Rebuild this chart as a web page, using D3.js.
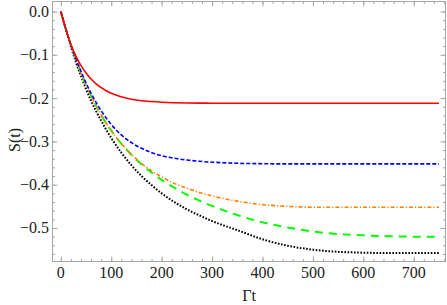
<!DOCTYPE html>
<html><head><meta charset="utf-8">
<script src="https://cdn.jsdelivr.net/npm/d3@7"></script>
<style>body{margin:0;background:#fff}svg{display:block}</style>
</head><body>
<svg id="c" width="447" height="305"></svg>
<script>
const tVals = [0,10,20,30,40,50,60,70,80,90,100,120,140,160,180,200,225,250,275,300,350,400,450,500,550,600,650,700,750];
const redS   = [0,-0.040,-0.076,-0.103,-0.125,-0.142,-0.156,-0.167,-0.176,-0.183,-0.189,-0.197,-0.2025,-0.206,-0.208,-0.2095,-0.2106,-0.2112,-0.2116,-0.2118,-0.212,-0.212,-0.212,-0.212,-0.212,-0.212,-0.212,-0.212,-0.212];
const blueS  = [0,-0.041,-0.077,-0.109,-0.138,-0.165,-0.189,-0.210,-0.229,-0.246,-0.261,-0.285,-0.303,-0.316,-0.326,-0.333,-0.339,-0.343,-0.346,-0.348,-0.3505,-0.3515,-0.352,-0.352,-0.352,-0.352,-0.352,-0.352,-0.352];
const orangeS= [0,-0.041,-0.078,-0.111,-0.142,-0.170,-0.195,-0.218,-0.239,-0.258,-0.275,-0.305,-0.330,-0.351,-0.368,-0.382,-0.397,-0.408,-0.418,-0.426,-0.438,-0.446,-0.450,-0.452,-0.452,-0.452,-0.452,-0.452,-0.452];
const greenS = [0,-0.041,-0.078,-0.111,-0.142,-0.170,-0.195,-0.218,-0.239,-0.258,-0.275,-0.305,-0.331,-0.353,-0.372,-0.389,-0.407,-0.423,-0.437,-0.449,-0.470,-0.487,-0.499,-0.508,-0.514,-0.517,-0.519,-0.520,-0.520];
const blackS = [0,-0.042,-0.081,-0.117,-0.149,-0.179,-0.206,-0.230,-0.252,-0.273,-0.292,-0.326,-0.355,-0.380,-0.401,-0.420,-0.440,-0.457,-0.471,-0.484,-0.505,-0.526,-0.541,-0.550,-0.555,-0.557,-0.558,-0.558,-0.558];
const xTicks = [0,100,200,300,400,500,600,700];
const yTicks = [0,-0.1,-0.2,-0.3,-0.4,-0.5];
const xLabel = "Γt";
const yLabel = "S(t)";

const series = [
  {vals: blackS,  color:"#000000", width:2.0, dash:"1.6,1.6"},
  {vals: greenS,  color:"#00ff00", width:2.0, dash:"8,6"},
  {vals: orangeS, color:"#ff8000", width:1.6, dash:"4,2,1.2,2"},
  {vals: blueS,   color:"#0000ff", width:1.6, dash:"4,2"},
  {vals: redS,    color:"#ff0000", width:1.6, dash:null}
];

const L=52.5, R=445.5, T=1.5, B=261.5;
const x = d3.scaleLinear().domain([-16.5, 763]).range([L, R]);
const y = d3.scaleLinear().domain([-0.5774, 0.0231]).range([B, T]);
const svg = d3.select("#c");
const frameCol = "#a6a6a6";

svg.append("clipPath").attr("id","clip").append("rect")
  .attr("x",L).attr("y",T).attr("width",R-L).attr("height",B-T);

const line = d3.line().x((d,i)=>x(tVals[i])).y(d=>y(d)).curve(d3.curveMonotoneX);
const g = svg.append("g").attr("clip-path","url(#clip)");
series.forEach(s=>{
  g.append("path").attr("d", line(s.vals)).attr("fill","none")
   .attr("stroke", s.color).attr("stroke-width", s.width)
   .attr("stroke-dasharray", s.dash);
});

// ticks via axes (inward)
const xMinor = d3.range(-0, 761, 20);
const yMinor = d3.range(0, -0.58, -0.02);
function axisTicks(axisGen, tr){ const a = svg.append("g").attr("transform",tr).call(axisGen);
  a.select(".domain").remove(); a.selectAll("line").attr("stroke",frameCol); return a; }
axisTicks(d3.axisBottom(x).tickValues(xMinor).tickSize(-2.5).tickFormat(""), `translate(0,${B})`);
axisTicks(d3.axisTop(x).tickValues(xMinor).tickSize(-2.5).tickFormat(""), `translate(0,${T})`);
axisTicks(d3.axisBottom(x).tickValues(xTicks).tickSize(-5).tickFormat(""), `translate(0,${B})`);
axisTicks(d3.axisTop(x).tickValues(xTicks).tickSize(-5).tickFormat(""), `translate(0,${T})`);
axisTicks(d3.axisLeft(y).tickValues(yMinor).tickSize(-2.5).tickFormat(""), `translate(${L},0)`);
axisTicks(d3.axisRight(y).tickValues(yMinor).tickSize(-2.5).tickFormat(""), `translate(${R},0)`);
axisTicks(d3.axisLeft(y).tickValues(yTicks).tickSize(-5).tickFormat(""), `translate(${L},0)`);
axisTicks(d3.axisRight(y).tickValues(yTicks).tickSize(-5).tickFormat(""), `translate(${R},0)`);

svg.append("rect").attr("x",L).attr("y",T).attr("width",R-L).attr("height",B-T)
  .attr("fill","none").attr("stroke",frameCol).attr("stroke-width",1);

const font = "'Liberation Serif', 'Times New Roman', serif";
svg.append("g").selectAll("text").data(xTicks).join("text")
  .attr("x",d=>x(d)).attr("y",278).attr("text-anchor","middle")
  .attr("font-family",font).attr("font-size",16).attr("fill","#222")
  .text(d=>d3.format("d")(d));
svg.append("g").selectAll("text").data(yTicks).join("text")
  .attr("x",49).attr("y",d=>y(d)+5.5).attr("text-anchor","end")
  .attr("font-family",font).attr("font-size",16).attr("fill","#222")
  .text(d=>d===0?"0.0":"\u2212"+d3.format(".1f")(-d));
svg.append("text").attr("x",249).attr("y",301).attr("text-anchor","middle")
  .attr("font-family",font).attr("font-size",16).attr("fill","#222").text(xLabel);
svg.append("text").attr("transform","translate(20,140) rotate(-90)").attr("text-anchor","middle")
  .attr("font-family",font).attr("font-size",16).attr("fill","#222").text(yLabel);
</script>
</body></html>
